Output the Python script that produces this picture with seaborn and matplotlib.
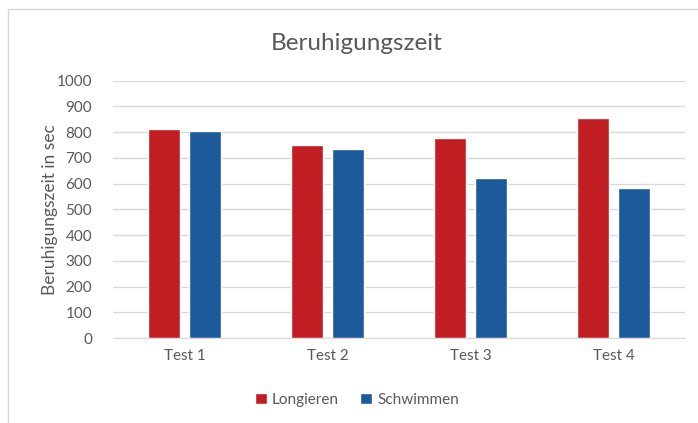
import pandas as pd
import matplotlib.pyplot as plt
import seaborn as sns
from matplotlib.patches import Rectangle

# Data
tests = ['Test 1', 'Test 2', 'Test 3', 'Test 4']
longieren = [813, 751, 778, 856]
schwimmen = [805, 735, 622, 583]
y_ticks = list(range(0, 1001, 100))

df = pd.DataFrame({
    'Test': tests * 2,
    'Zeit': longieren + schwimmen,
    'Gruppe': ['Longieren'] * len(tests) + ['Schwimmen'] * len(tests),
})

sns.set_style('white')
plt.rcParams['font.family'] = ['Lato', 'DejaVu Sans']

grey = '#595959'
palette = {'Longieren': '#C01E23', 'Schwimmen': '#1C5A9B'}

fig = plt.figure(figsize=(6.98, 4.23), dpi=100)
ax = fig.add_axes([113 / 698, 1 - 338 / 423, 572 / 698, (338 - 80.7) / 423])

sns.barplot(data=df, x='Test', y='Zeit', hue='Gruppe', palette=palette,
            width=0.573, gap=0.2, saturation=1, ax=ax, legend=True)

ax.set_ylim(0, 1000)
ax.set_xlim(-0.5, 3.5)
ax.set_yticks(y_ticks)
ax.yaxis.grid(True, color='#D9D9D9', linewidth=1.0)
ax.set_axisbelow(True)
for s in ax.spines.values():
    s.set_visible(False)
ax.spines['bottom'].set_visible(True)
ax.spines['bottom'].set_color('#D9D9D9')
ax.tick_params(axis='both', length=0, colors=grey, labelsize=11)
ax.tick_params(axis='x', pad=8)
ax.tick_params(axis='y', pad=15)
ax.set_xlabel('')
ax.set_ylabel('Beruhigungszeit in sec', color=grey, fontsize=12.5, labelpad=-1)

fig.text(357 / 698, 1 - 44 / 423, 'Beruhigungszeit', ha='center', va='center',
         color=grey, fontsize=17.5)

leg = ax.legend(loc='center', bbox_to_anchor=(357 / 698, 1 - 400 / 423),
                bbox_transform=fig.transFigure, ncol=2, frameon=False,
                fontsize=11, handlelength=0.75, handleheight=0.75,
                handletextpad=0.35, columnspacing=1.4)
for t in leg.get_texts():
    t.set_color(grey)

# outer chart border
fig.patches.append(Rectangle((8 / 698, -0.05), 1.1, 1 - 9 / 423 + 0.05,
                             transform=fig.transFigure, fill=False,
                             edgecolor='#D9D9D9', linewidth=1.0))

fig.savefig('out.png', dpi=100)
